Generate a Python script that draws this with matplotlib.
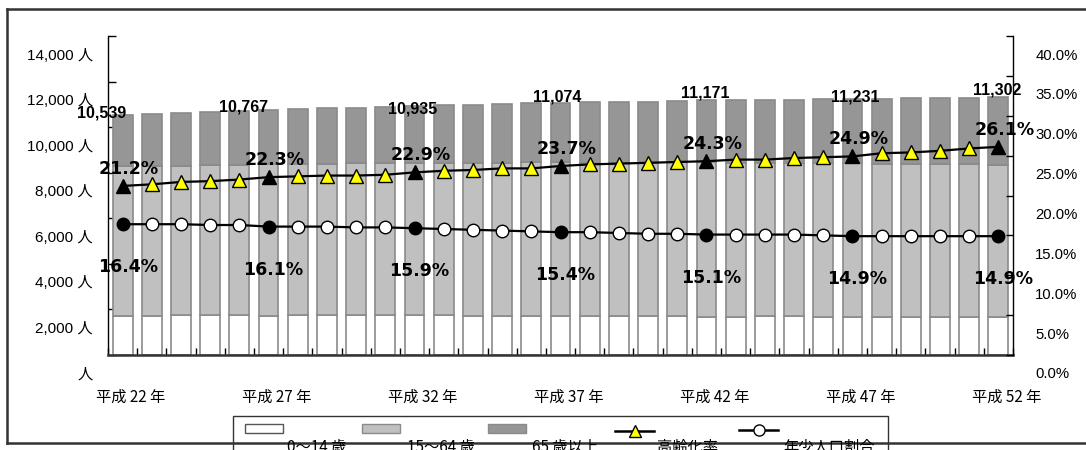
import matplotlib
matplotlib.use("Agg")
import matplotlib.pyplot as plt
from matplotlib.transforms import ScaledTranslation
from matplotlib.patches import Rectangle
from matplotlib.lines import Line2D
import numpy as np

# ---- data -------------------------------------------------------------
years = list(range(22, 53))          # 平成22年 .. 平成52年

total = [10539, 10560, 10600, 10650, 10700, 10767, 10790, 10830, 10855, 10898,
         10935, 10973, 10990, 11016, 11040, 11074, 11090, 11110, 11120, 11148,
         11171, 11180, 11190, 11200, 11215, 11231, 11245, 11260, 11272, 11288,
         11302]

pop_0_14 = [1728, 1732, 1738, 1736, 1744, 1733, 1737, 1744, 1737, 1744,
            1739, 1734, 1725, 1718, 1711, 1705, 1708, 1700, 1690, 1694,
            1687, 1688, 1690, 1691, 1682, 1673, 1676, 1678, 1680, 1682,
            1684]

pop_15_64 = [6577, 6568, 6562, 6592, 6602, 6633, 6636, 6649, 6676, 6691,
             6692, 6704, 6715, 6720, 6746, 6744, 6731, 6744, 6750, 6756,
             6769, 6753, 6758, 6743, 6752, 6761, 6724, 6722, 6706, 6682,
             6668]

pop_65_plus = [2234, 2260, 2300, 2322, 2354, 2401, 2417, 2437, 2442, 2463,
               2504, 2535, 2550, 2578, 2583, 2625, 2651, 2666, 2680, 2698,
               2715, 2739, 2742, 2766, 2781, 2797, 2845, 2860, 2886, 2924,
               2950]

aging_rate = [21.2, 21.4, 21.7, 21.8, 22.0, 22.3, 22.4, 22.5, 22.5, 22.6,
              22.9, 23.1, 23.2, 23.4, 23.4, 23.7, 23.9, 24.0, 24.1, 24.2,
              24.3, 24.5, 24.5, 24.7, 24.8, 24.9, 25.3, 25.4, 25.6, 25.9,
              26.1]

youth_rate = [16.4, 16.4, 16.4, 16.3, 16.3, 16.1, 16.1, 16.1, 16.0, 16.0,
              15.9, 15.8, 15.7, 15.6, 15.5, 15.4, 15.4, 15.3, 15.2, 15.2,
              15.1, 15.1, 15.1, 15.1, 15.0, 14.9, 14.9, 14.9, 14.9, 14.9,
              14.9]

labeled = [0, 5, 10, 15, 20, 25, 30]
x_tick_labels = ["平成 22 年", "平成 27 年", "平成 32 年", "平成 37 年",
                 "平成 42 年", "平成 47 年", "平成 52 年"]
left_ticks = [0, 2000, 4000, 6000, 8000, 10000, 12000, 14000]
left_tick_labels = ["人", "2,000 人", "4,000 人", "6,000 人", "8,000 人",
                    "10,000 人", "12,000 人", "14,000 人"]
right_ticks = [0, 5, 10, 15, 20, 25, 30, 35, 40]
legend_labels = ["0～14 歳", "15～64 歳", "65 歳以上", "高齢化率", "年少人口割合"]

# ---- styling ------------------------------------------------------------
W, H = 1086, 450
DPI = 100
CJK = ["Liberation Sans", "Noto Sans CJK JP", "DejaVu Sans"]
plt.rcParams["font.family"] = CJK

C_YOUNG = "#FFFFFF"
C_WORK = "#C0C0C0"
C_OLD = "#969696"
C_EDGE = "#8a8a8a"


def fx(px):
    return px / W


def fy(py):
    return 1 - py / H


fig = plt.figure(figsize=(W / DPI, H / DPI), dpi=DPI)
ax = fig.add_axes([fx(108), fy(355), (1013 - 108) / W, (355 - 36) / H])
ax2 = ax.twinx()

x = np.arange(len(years))
bw = 0.68
ax.bar(x, pop_0_14, bw, color=C_YOUNG, edgecolor=C_EDGE, linewidth=1.2, zorder=2)
ax.bar(x, pop_15_64, bw, bottom=pop_0_14, color=C_WORK, edgecolor=C_EDGE,
       linewidth=1.2, zorder=2)
bottom_old = np.array(pop_0_14) + np.array(pop_15_64)
ax.bar(x, pop_65_plus, bw, bottom=bottom_old, color=C_OLD, edgecolor=C_EDGE,
       linewidth=1.2, zorder=2)

ax.set_xlim(-0.5, len(years) - 0.5)
ax.set_ylim(0, 14000)
ax2.set_ylim(0, 40)

# total labels above selected bars
total_offsets = {0: (-21, 2), 5: (-25, 3), 10: (-2, -3), 15: (-3, 6),
                 20: (-1, 7), 25: (3, 2), 30: (-1, 7)}
for i in labeled:
    dx, dy = total_offsets[i]
    ax.annotate(f"{total[i]:,}", (x[i], total[i]),
                xytext=(dx * 0.72, dy * 0.72), textcoords="offset points",
                ha="center", va="center", fontsize=11.5, fontweight="bold",
                family="Liberation Sans", color="#000000", zorder=6)

# rate lines
ax2.plot(x, aging_rate, color="black", lw=1.6, zorder=3)
ax2.plot(x, youth_rate, color="black", lw=1.6, zorder=3)
others = [i for i in x if i not in labeled]
ax2.plot([x[i] for i in others], [aging_rate[i] for i in others], ls="none",
         marker="^", ms=10.5, mfc="#FFFF00", mec="black", mew=1.0, zorder=4)
ax2.plot([x[i] for i in labeled], [aging_rate[i] for i in labeled], ls="none",
         marker="^", ms=10.5, mfc="black", mec="black", mew=1.0, zorder=4)
ax2.plot([x[i] for i in others], [youth_rate[i] for i in others], ls="none",
         marker="o", ms=9, mfc="white", mec="black", mew=1.0, zorder=4)
ax2.plot([x[i] for i in labeled], [youth_rate[i] for i in labeled], ls="none",
         marker="o", ms=9, mfc="black", mec="black", mew=1.0, zorder=4)

for i in labeled:
    ax2.annotate(f"{aging_rate[i]:.1f}%", (x[i], aging_rate[i]),
                 xytext=(6 * 0.72, 17 * 0.72), textcoords="offset points",
                 ha="center", va="center", fontsize=12.5, fontweight="bold",
                 family="DejaVu Sans", color="black", zorder=6)
    ax2.annotate(f"{youth_rate[i]:.1f}%", (x[i], youth_rate[i]),
                 xytext=(5 * 0.72, -43 * 0.72), textcoords="offset points",
                 ha="center", va="center", fontsize=12.5, fontweight="bold",
                 family="DejaVu Sans", color="black", zorder=6)

# axes, ticks
for a in (ax, ax2):
    a.spines["top"].set_visible(False)
    for s in ("left", "right", "bottom"):
        a.spines[s].set_color("black")
        a.spines[s].set_linewidth(1.0)
ax.spines["right"].set_visible(False)
ax2.spines["left"].set_visible(False)
ax2.spines["bottom"].set_visible(False)
ax.spines["bottom"].set_linewidth(1.8)
ax.spines["bottom"].set_color("#333333")

ax.set_yticks(left_ticks)
ax.set_yticklabels(left_tick_labels, fontsize=11)
ax.tick_params(axis="y", direction="in", length=6, width=1, pad=11)
down = ScaledTranslation(0, -18 / DPI, fig.dpi_scale_trans)
for lab in ax.get_yticklabels():
    lab.set_transform(lab.get_transform() + down)

ax2.set_yticks(right_ticks)
ax2.set_yticklabels([f"{v:.1f}%" for v in right_ticks], fontsize=10.7,
                    family="Liberation Sans")
ax2.tick_params(axis="y", direction="in", length=5, width=1, pad=16)
for lab in ax2.get_yticklabels():
    lab.set_transform(lab.get_transform() + down)

ax.set_xticks(labeled)
ax.set_xticklabels(x_tick_labels, fontsize=11, family=["Noto Sans CJK JP"])
ax.set_xticks(np.arange(-0.5, len(years), 1.0), minor=True)
ax.tick_params(axis="x", which="major", length=0, pad=24)
ax.tick_params(axis="x", which="minor", direction="in", length=5, width=1)
right = ScaledTranslation(8 / DPI, 0, fig.dpi_scale_trans)
for lab in ax.get_xticklabels():
    lab.set_transform(lab.get_transform() + right)

# outer frame
frame_kw = dict(color="#333333", lw=1.8, transform=fig.transFigure)
fig.add_artist(Line2D([fx(7), 1], [fy(9), fy(9)], **frame_kw))
fig.add_artist(Line2D([fx(7), fx(7)], [fy(9), fy(443)], **frame_kw))

# legend box
fig.add_artist(Rectangle((fx(233), fy(470)), fx(888) - fx(233), fy(416) - fy(470),
                         transform=fig.transFigure, facecolor="white",
                         edgecolor="#333333", lw=1.0))
patch_specs = [(245, C_YOUNG, "#555555"), (362, C_WORK, C_EDGE), (488, C_OLD, C_EDGE)]
for (px0, fc, ec) in patch_specs:
    fig.add_artist(Rectangle((fx(px0), fy(433)), fx(38), fy(424) - fy(433),
                             transform=fig.transFigure, facecolor=fc,
                             edgecolor=ec, lw=1.0))
fig.add_artist(Line2D([fx(615), fx(654)], [fy(431), fy(431)], color="black",
                      lw=1.8, transform=fig.transFigure))
fig.add_artist(Line2D([fx(634.5)], [fy(431)], marker="^", ms=9, mfc="#FFFF00",
                      mec="black", mew=1.0, transform=fig.transFigure))
fig.add_artist(Line2D([fx(739), fx(778)], [fy(430), fy(430)], color="black",
                      lw=1.8, transform=fig.transFigure))
fig.add_artist(Line2D([fx(758.5)], [fy(430)], marker="o", ms=8, mfc="white",
                      mec="black", mew=1.0, transform=fig.transFigure))
label_x = [287, 407, 532, 657, 783]
for lx, txt in zip(label_x, legend_labels):
    fig.text(fx(lx), fy(439), txt, ha="left", va="top", fontsize=11,
             family=["Noto Sans CJK JP"], color="black")

fig.add_artist(Line2D([fx(7), 1], [fy(443), fy(443)], **frame_kw))

fig.savefig("out.png", dpi=DPI)
